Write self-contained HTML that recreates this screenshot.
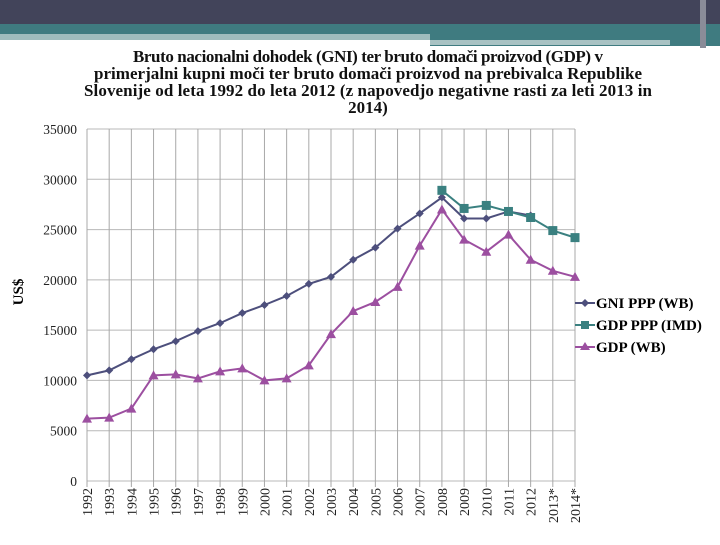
<!DOCTYPE html>
<html><head><meta charset="utf-8"><style>
body{margin:0;background:#fff;}
svg text{font-family:"Liberation Serif",serif;}
</style></head><body>
<svg width="720" height="540" xmlns="http://www.w3.org/2000/svg">
<rect x="0" y="0" width="720" height="24" fill="#42445a"/>
<rect x="0" y="24" width="720" height="10" fill="#3f7b80"/>
<rect x="0" y="34" width="430" height="6" fill="#9fbcbd"/>
<rect x="430" y="34" width="290" height="12" fill="#3f7b80"/>
<rect x="430" y="40" width="240" height="5" fill="#a8c2c3"/>
<rect x="700" y="0" width="6" height="48" fill="#8a8c98"/>
<g font-weight="bold" font-size="17" text-anchor="middle" fill="#111">
<text x="368" y="62" textLength="470">Bruto nacionalni dohodek (GNI) ter bruto domači proizvod (GDP) v</text>
<text x="368" y="79" textLength="548">primerjalni kupni moči ter bruto domači proizvod na prebivalca Republike</text>
<text x="368" y="96" textLength="568">Slovenije od leta 1992 do leta 2012 (z napovedjo negativne rasti za leti 2013 in</text>
<text x="368" y="113">2014)</text>
</g>
<text x="0" y="0" transform="translate(23,292) rotate(-90)" font-weight="bold" font-size="15" text-anchor="middle">US$</text>
<g id="grid"></g><g id="axes"></g><g id="series"></g>
<g font-weight="bold" font-size="15">
<g><line x1="575" y1="303" x2="595" y2="303" stroke="#4d4f7c" stroke-width="2"/><path d="M585 299L589 303L585 307L581 303Z" fill="#4d4f7c"/><text x="596" y="308">GNI PPP (WB)</text></g>
<g><line x1="575" y1="325" x2="595" y2="325" stroke="#3a8080" stroke-width="2"/><rect x="581" y="321" width="8" height="8" fill="#3a8080"/><text x="596" y="330">GDP PPP (IMD)</text></g>
<g><line x1="575" y1="347" x2="595" y2="347" stroke="#9c4fa0" stroke-width="2"/><path d="M585 342L590 350L580 350Z" fill="#9c4fa0"/><text x="596" y="352">GDP (WB)</text></g>
</g>
</svg>
<script>
const years=["1992","1993","1994","1995","1996","1997","1998","1999","2000","2001","2002","2003","2004","2005","2006","2007","2008","2009","2010","2011","2012","2013*","2014*"];
const gni=[10500,11000,12100,13100,13900,14900,15700,16700,17500,18400,19600,20300,22000,23200,25100,26600,28200,26100,26100,26800,26400,null,null];
const gdpPpp=[null,null,null,null,null,null,null,null,null,null,null,null,null,null,null,null,28900,27100,27400,26800,26200,24900,24200];
const gdpWb=[6200,6300,7200,10500,10600,10200,10900,11200,10000,10200,11500,14600,16900,17800,19300,23400,27000,24000,22800,24500,22000,20900,20300];
const yTicks=[0,5000,10000,15000,20000,25000,30000,35000];
const NS="http://www.w3.org/2000/svg";
const X0=87,X1=575,Y0=481,Y1=129,YMAX=35000;
const xs=i=>X0+i*(X1-X0)/(years.length-1);
const ys=v=>Y0-v/YMAX*(Y0-Y1);
function mk(t,a,p){const e=document.createElementNS(NS,t);for(const k in a)e.setAttribute(k,a[k]);p.appendChild(e);return e;}
const grid=document.getElementById('grid'),axes=document.getElementById('axes'),ser=document.getElementById('series');
yTicks.forEach(v=>{
 const l=mk('line',{x1:X0,x2:X1,y1:ys(v),y2:ys(v),stroke:'#b8b8b8','stroke-width':1},grid);
 
 
 const t=mk('text',{x:X0-10,y:ys(v)+5,'text-anchor':'end','font-size':'13.5',fill:'#222'},axes);
 t.textContent=v;
 
 
});
years.forEach((y,i)=>{
 const l=mk('line',{x1:xs(i),x2:xs(i),y1:Y1,y2:Y0+6,stroke:'#a8a8a8','stroke-width':1},grid);
 
 
 const t=mk('text',{transform:`translate(${xs(i)+5},${488}) rotate(-90)`,'text-anchor':'end','font-size':'14',fill:'#222'},axes);
 t.textContent=y;
 
 
});
function draw(data,color,shape,name){
 const g=mk('g',{},ser);
 
 
 let d='';data.forEach((v,i)=>{if(v==null)return;d+=(d?'L':'M')+xs(i)+' '+ys(v);});
 mk('path',{d:d,fill:'none',stroke:color,'stroke-width':2},g);
 data.forEach((v,i)=>{if(v==null)return;const x=xs(i),y=ys(v);let m;
  if(shape==='d')m=mk('path',{d:`M${x} ${y-4}L${x+4} ${y}L${x} ${y+4}L${x-4} ${y}Z`,fill:color},g);
  else if(shape==='s')m=mk('rect',{x:x-4.5,y:y-4.5,width:9,height:9,fill:color},g);
  else m=mk('path',{d:`M${x} ${y-5}L${x+5} ${y+4}L${x-5} ${y+4}Z`,fill:color},g);
  
  
 });
}
draw(gni,'#4d4f7c','d','series-gni-ppp-wb');
draw(gdpWb,'#9c4fa0','t','series-gdp-wb');
draw(gdpPpp,'#3a8080','s','series-gdp-ppp-imd');
</script>
</body></html>
